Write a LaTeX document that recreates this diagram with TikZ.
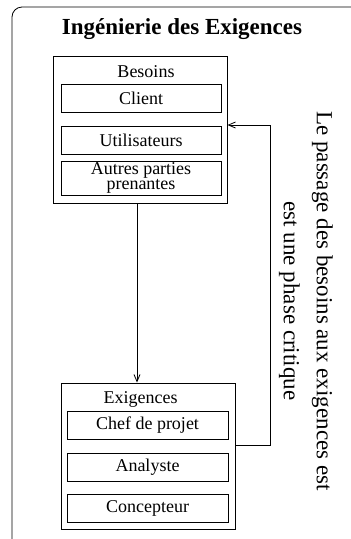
\documentclass[tikz,border=0pt]{standalone}
\usepackage{fontspec}
\setmainfont{Liberation Serif}
\usetikzlibrary{arrows.meta}
\begin{document}
\begin{tikzpicture}[x=1pt,y=1pt,
  box/.style={draw,line width=0.8pt,inner sep=0pt,minimum width=#1},
  outerbox/.style={draw,line width=1pt,inner sep=0pt},
  lbl/.style={font=\fontsize{18}{13}\selectfont,inner sep=0pt},
  arr/.style={line width=0.8pt,-{Straight Barb[length=7pt,width=6pt]}},
  ln/.style={line width=0.8pt}]
\useasboundingbox (0,0) rectangle (351,-539);
\begin{scope}
\clip (0,0) rectangle (351,-539);
\draw[line width=0.8pt,rounded corners=10pt] (12,-7) rectangle (365,-549);
\end{scope}
\node[inner sep=0pt,anchor=base,font=\fontsize{23}{27}\selectfont\bfseries] (title) at (182,-34) {Ingénierie des Exigences};
% Besoins
\node[outerbox,minimum width=174pt,minimum height=147pt] (bes) at (140,-129.5) {};
\node[lbl,anchor=base] (besl) at (146,-77) {Besoins};
\node[box=160pt,lbl,minimum height=28pt] (cli) at (141,-98) {Client};
\node[box=160pt,lbl,minimum height=28pt] (uti) at (141,-140) {Utilisateurs};
\node[box=160pt,lbl,minimum height=34pt,align=center,font=\fontsize{18}{14.5}\selectfont] (aut) at (141,-178) {Autres parties\\prenantes};
% Exigences
\node[outerbox,minimum width=174pt,minimum height=146pt] (exi) at (148,-456) {};
\node[lbl,anchor=base] (exil) at (140.6,-403) {Exigences};
\node[box=161pt,lbl,minimum height=28pt] (che) at (147.5,-425) {Chef de projet};
\node[box=161pt,lbl,minimum height=28pt] (ana) at (147.5,-467) {Analyste};
\node[box=161pt,lbl,minimum height=28pt] (con) at (147.5,-508) {Concepteur};
% connectors
\draw[arr] ([xshift=-3pt]bes.south) -- ([xshift=-3pt]bes.south |- exi.north);
\coordinate (c) at (270,-125);
\draw[arr] ([yshift=11pt]exi.east) -| (c) -- (c -| bes.east);
% rotated text
\node[rotate=-90,inner sep=0pt,align=center,font=\fontsize{23}{33}\selectfont] (note) at (306,-301) {Le passage des besoins aux exigences est\\est une phase critique};
\end{tikzpicture}
\end{document}
